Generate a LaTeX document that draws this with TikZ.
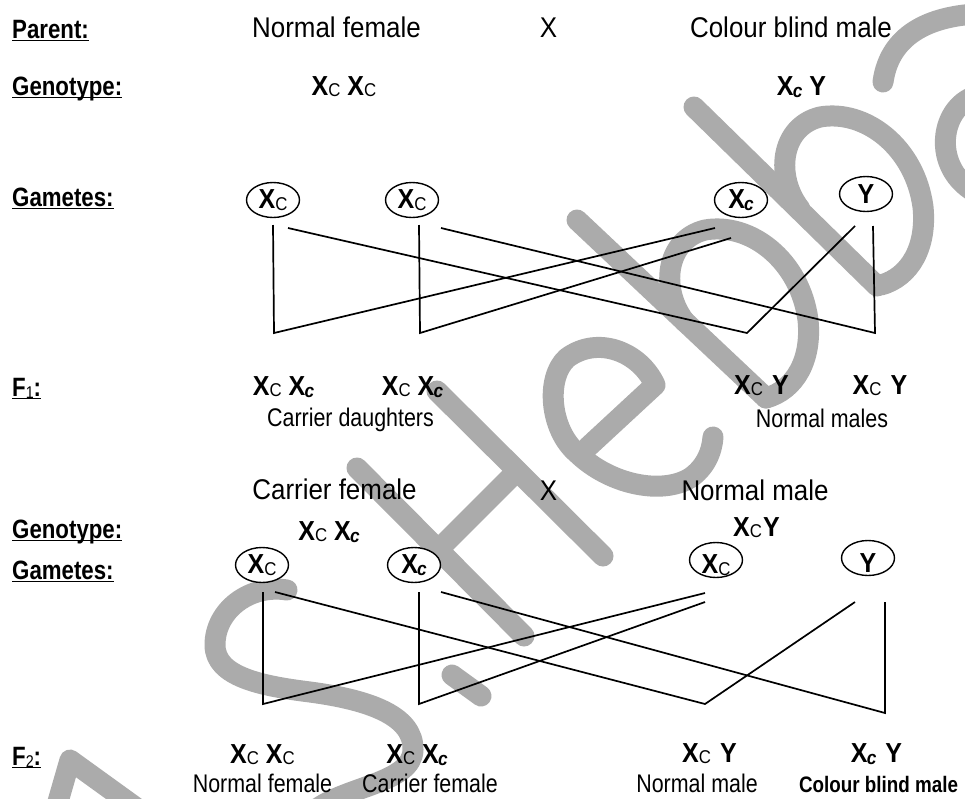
\documentclass[tikz,border=0pt]{standalone}
\usepackage{fontspec}
\setmainfont[FakeStretch=0.91]{Liberation Sans}
\newfontfamily\narrowfont[FakeStretch=0.84]{Liberation Sans}
\usetikzlibrary{shapes.geometric}
\definecolor{wm}{RGB}{171,171,171}

% X with a plain capital C or an italic small c as subscript
\newcommand\gXC{\textbf{X}{\mdseries\fontsize{18.5}{18.5}\selectfont\raisebox{-1.7pt}{C}}}
\newcommand\gXc{\textbf{X}\kern-0.8pt{\fontsize{19}{19}\selectfont\bfseries\itshape\raisebox{-2.5pt}{c}}}
\newcommand\lowtext[1]{\raisebox{-5pt}[\height][\depth]{#1}}

\begin{document}
\begin{tikzpicture}[x=1pt,y=-1pt,
  wmark/.style={draw=wm, line width=21pt, line cap=round, line join=round},
  lab/.style={inner sep=0, anchor=base west, font=\fontsize{26.5}{26.5}\narrowfont\bfseries},
  ul/.style={line width=1.5pt},
  big/.style={inner sep=0, anchor=base, font=\fontsize{28.5}{28.5}\selectfont},
  geno/.style={inner sep=0, anchor=base, font=\fontsize{27.5}{27.5}\selectfont\bfseries},
  capt/.style={inner sep=0, anchor=base, font=\fontsize{25.5}{25.5}\narrowfont},
  gam/.style={ellipse, draw, line width=1.4pt, fill=white, minimum width=53pt,
              minimum height=35pt, inner sep=0, font=\fontsize{27.5}{27.5}\selectfont\bfseries},
  link/.style={line width=1.7pt}]

\useasboundingbox (0,0) rectangle (965,798);
\fill[white] (0,0) rectangle (965,798);

% watermark strokes
\begin{scope}
\clip (0,0) rectangle (965,798);
% A
\draw[wmark] (55,812) -- (70,760) -- (142,812);
% S
\draw[wmark] (287,590) .. controls (250,584) and (215,610) .. (215,645)
  .. controls (215,677) and (262,686) .. (310,692)
  .. controls (370,700) and (414,716) .. (413,750)
  .. controls (412,782) and (350,786) .. (318,808);
% dot
\draw[wmark] (452,675) -- (481,696);
% H
\draw[wmark] (357,468) -- (524,636);
\draw[wmark] (437,391) -- (603,556);
\draw[wmark] (438,550) -- (517,471);
% e
\draw[wmark] (588,447) -- (655,385) .. controls (640,352) and (598,335) .. (567,358)
  .. controls (545,378) and (550,430) .. (577,453)
  .. controls (610,485) and (662,495) .. (690,478)
  .. controls (705,468) and (712,452) .. (713,437);
% b
\draw[wmark] (577,220) -- (766,398);
\draw[wmark] (685,322) .. controls (660,290) and (665,240) .. (705,230)
  .. controls (750,222) and (800,260) .. (808,320)
  .. controls (812,360) and (795,390) .. (766,398);
% b
\draw[wmark] (694,107) -- (877,286);
\draw[wmark] (800,209) .. controls (775,177) and (780,127) .. (820,117)
  .. controls (865,109) and (915,147) .. (923,207)
  .. controls (927,247) and (910,277) .. (881,285);
% a
\draw[wmark] (883,82) .. controls (888,45) and (915,18) .. (975,14);
\draw[wmark] (980,95) .. controls (940,102) and (928,170) .. (980,195);
\end{scope}

% ---------- first cross ----------
\node[lab] (lpar) at (12,38) {Parent:};
\node[big] (pf) at (336.5,37.5) {Normal female};
\node[big] (px) at (548.5,37) {X};
\node[big] (pm) at (791,37) {Colour blind male};

\node[lab] (lgen) at (12,95) {Genotype:};
\node[geno] (gf) at (344,95) {\gXC\ \gXC};
\node[geno] (gm) at (801.5,95) {\gXc\hspace{7pt}Y};

\node[lab] (lgam) at (12,206) {Gametes:};
\node[gam] (g1) at (273,200) {\gXC};
\node[gam] (g2) at (412,200) {\gXC};
\node[gam] (g3) at (741,200) {\gXc};
\node[gam] (g4) at (866,194) {Y};

\coordinate (g1v) at (273,225);  \coordinate (g1d) at (288,228);
\coordinate (g2v) at (419,225);  \coordinate (g2d) at (441,228);
\coordinate (g3a) at (715,228);  \coordinate (g3b) at (731,238);
\coordinate (g4d) at (855,226);  \coordinate (g4v) at (873,226);
\coordinate (j1) at (274,333);
\coordinate (j2) at (420,333);
\coordinate (j3) at (747,333);
\coordinate (j4) at (875,333);

\draw[link] (g1v) -- (j1) -- (g3a);
\draw[link] (g2v) -- (j2) -- (g3b);
\draw[link] (g1d) -- (j3) -- (g4d);
\draw[link] (g2d) -- (j4) -- (g4v);

\node[lab] (lf1) at (12,396) {F{\mdseries\fontsize{17}{17}\selectfont\raisebox{-2pt}{1}}:};
\node[geno] (o1) at (283.5,395) {\gXC\ \gXc};
\node[geno] (o2) at (412.5,395) {\gXC\ \gXc};
\node[geno] (o3) at (761.5,394) {\gXC\hspace{9pt}Y};
\node[geno] (o4) at (880,394) {\gXC\hspace{9pt}Y};
\node[capt] (c1) at (350.5,426) {Carrier daughters};
\node[capt] (c2) at (822,427) {Normal males};

% ---------- second cross ----------
\node[big] (qf) at (334.5,499.5) {Carrier female};
\node[big] (qx) at (548.5,500) {X};
\node[big] (qm) at (755,500) {Normal male};

\node[lab] (lgen2) at (12,538) {Genotype:};
\node[geno] (hf) at (329,540) {\gXC\ \gXc};
\node[geno] (hm) at (756.5,536) {\gXC\kern1pt Y};

\node[lab] (lgam2) at (12,579) {Gametes:};
\node[gam] (h1) at (262,565) {\gXC};
\node[gam] (h2) at (414,565) {\gXc};
\node[gam] (h3) at (716,560) {\lowtext{\gXC}};
\node[gam] (h4) at (868,558) {\lowtext{Y}};

\coordinate (h1v) at (263,592);  \coordinate (h1d) at (275,592);
\coordinate (h2v) at (419,592);  \coordinate (h2d) at (441,592);
\coordinate (h3a) at (705,593);  \coordinate (h3b) at (705,602);
\coordinate (h4d) at (855,602);  \coordinate (h4v) at (885,602);
\coordinate (k1) at (263,704);
\coordinate (k2) at (419,704);
\coordinate (k3) at (705,704);
\coordinate (k4) at (885,713);

\draw[link] (h1v) -- (k1) -- (h3a);
\draw[link] (h2v) -- (k2) -- (h3b);
\draw[link] (h1d) -- (k3) -- (h4d);
\draw[link] (h2d) -- (k4) -- (h4v);

\node[lab] (lf2) at (12,765) {F{\mdseries\fontsize{17}{17}\selectfont\raisebox{-2pt}{2}}:};
\node[geno] (r1) at (262.5,763) {\gXC\ \gXC};
\node[geno] (r2) at (417,763) {\gXC\ \gXc};
\node[geno] (r3) at (709.5,762) {\gXC\hspace{9pt}Y};
\node[geno] (r4) at (876.5,762) {\gXc\hspace{9pt}Y};
\node[capt] (d1) at (262.5,792) {Normal female};
\node[capt] (d2) at (430,792) {Carrier female};
\node[capt] (d3) at (697,792) {Normal male};
\node[capt, font=\fontsize{22.4}{22.4}\narrowfont\bfseries] (d4) at (878.5,792) {Colour blind male};

% underlined row labels
\foreach \n in {lpar,lgen,lgam,lf1,lgen2,lgam2,lf2}
  \draw[ul] ([yshift=-2.5pt]\n.base west) -- ([yshift=-2.5pt]\n.base east);
\end{tikzpicture}
\end{document}
